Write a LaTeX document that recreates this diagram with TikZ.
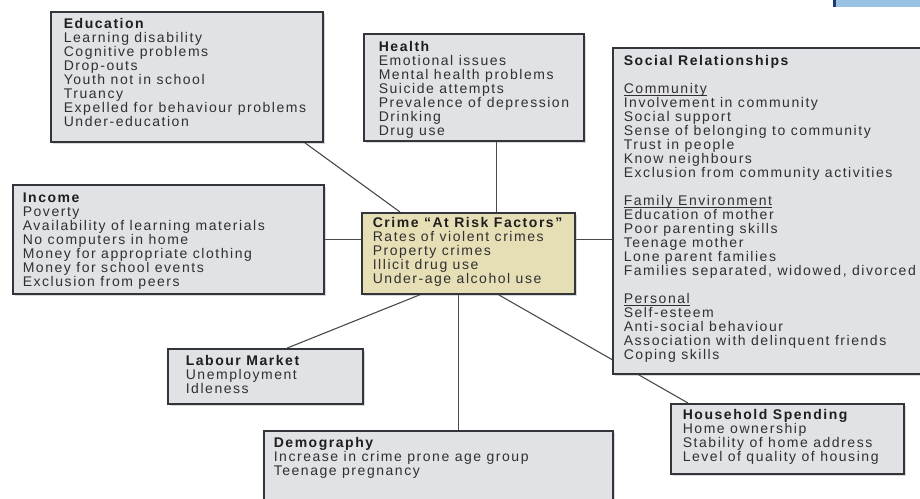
\documentclass[tikz,border=0pt]{standalone}
\usepackage{fontspec}
\setmainfont[LetterSpace=11]{Liberation Sans}
\usepackage{xcolor}
\usetikzlibrary{shadows,backgrounds,positioning}

\definecolor{boxfill}{HTML}{E0E2E6}
\definecolor{boxline}{HTML}{323539}
\definecolor{crimefill}{HTML}{E6DFB6}
\definecolor{linkgray}{HTML}{4A4A4A}
\definecolor{textgray}{HTML}{303030}
\definecolor{headgray}{HTML}{1E1E1E}
\definecolor{tabblue}{HTML}{98C1E2}
\definecolor{tabedge}{HTML}{1F3A6E}

% box text: width, left indent, lines
\newcommand{\factortext}[3]{\parbox[t]{#1}{\leftskip=#2\relax\rightskip=0pt plus 1fil\relax\parindent=0pt\relax #3}}
\newcommand{\factorhead}[1]{\textbf{\color{headgray}#1}}
\newcommand{\factorsub}[1]{\underbar{#1}}

\begin{document}
\begin{tikzpicture}[x=1pt, y=-1pt,
  factor/.style={draw=boxline, fill=boxfill, line width=1.6pt, rectangle, anchor=north west, inner sep=0pt, text=textgray, font=\fontsize{14}{14}\selectfont, drop shadow={shadow xshift=2pt, shadow yshift=-2pt, opacity=0.3}},
  link/.style={draw=linkgray, line width=1.1pt}]
  \useasboundingbox (0,0) rectangle (920,498);
  \clip (0,0) rectangle (920,498);

  \fill[tabblue] (834,0) rectangle (920,7);
  \fill[tabedge] (833,0) rectangle (836,7);

  \node[factor, fill=crimefill, text height=15pt, text depth=66pt] (crime) at (361,212)
    {\factortext{213pt}{11pt}{\factorhead{Crime “At Risk Factors”}\\ Rates of violent crimes\\ Property crimes\\ Illicit drug use\\ Under-age alcohol use}};
  \node[factor, text height=17pt, text depth=113pt] (educ) at (50,11)
    {\factortext{272pt}{13pt}{\factorhead{Education}\\ Learning disability\\ Cognitive problems\\ Drop-outs\\ Youth not in school\\ Truancy\\ Expelled for behaviour problems\\ Under-education}};
  \node[factor, text height=18pt, text depth=89pt] (health) at (363,33)
    {\factortext{220pt}{15pt}{\factorhead{Health}\\ Emotional issues\\ Mental health problems\\ Suicide attempts\\ Prevalence of depression\\ Drinking\\ Drug use}};
  \node[factor, text height=18pt, text depth=308pt] (social) at (612,47)
    {\factortext{330pt}{11pt}{\factorhead{Social Relationships}\\[14pt] \factorsub{Community}\\ Involvement in community\\ Social support\\ Sense of belonging to community\\ Trust in people\\ Know neighbours\\ Exclusion from community activities\\[14pt] \factorsub{Family Environment}\\ Education of mother\\ Poor parenting skills\\ Teenage mother\\ Lone parent families\\ Families separated, widowed, divorced\\[14pt] \factorsub{Personal}\\ Self-esteem\\ Anti-social behaviour\\ Association with delinquent friends\\ Coping skills}};
  \node[factor, text height=18pt, text depth=91pt] (income) at (12,184)
    {\factortext{311pt}{10pt}{\factorhead{Income}\\ Poverty\\ Availability of learning materials\\ No computers in home\\ Money for appropriate clothing\\ Money for school events\\ Exclusion from peers}};
  \node[factor, text height=17pt, text depth=38pt] (labour) at (167,348)
    {\factortext{195pt}{18pt}{\factorhead{Labour Market}\\ Unemployment\\ Idleness}};
  \node[factor, text height=17pt, text depth=63pt] (demog) at (263,430)
    {\factortext{349pt}{10pt}{\factorhead{Demography}\\ Increase in crime prone age group\\ Teenage pregnancy}};
  \node[factor, text height=16pt, text depth=54pt] (house) at (670,403)
    {\factortext{233pt}{12pt}{\factorhead{Household Spending}\\ Home ownership\\ Stability of home address\\ Level of quality of housing}};

  \begin{pgfonlayer}{background}
    \draw[link] ([xshift=-19pt]educ.south east) -- ([xshift=39pt]crime.north west);
    \draw[link] ([xshift=23pt]health.south) -- ([xshift=23pt]health.south |- crime.north);
    \draw[link] (income.east) -- (income.east -| crime.west);
    \draw[link] (income.east -| crime.east) -- (income.east -| social.west);
    \draw[link] ([xshift=22pt]labour.north) -- ([xshift=-48pt]crime.south);
    \draw[link] ([xshift=-10pt]crime.south) -- ([xshift=-10pt]crime.south |- demog.north);
    \draw[link] ([xshift=30pt]crime.south) -- ([xshift=18pt]house.north west);
  \end{pgfonlayer}
\end{tikzpicture}
\end{document}
